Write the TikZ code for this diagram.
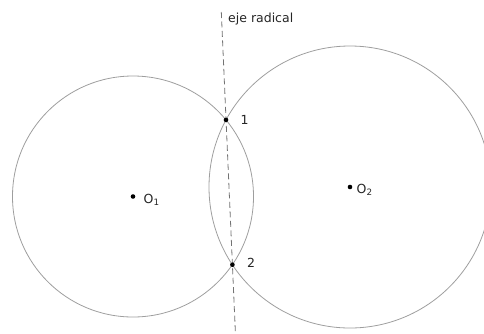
\documentclass[tikz,border=0pt]{standalone}
\usepackage{fontspec}
\setmainfont{DejaVu Sans}
\usetikzlibrary{positioning}
\begin{document}
\begin{tikzpicture}[x=1pt, y=-1pt, font=\fontsize{12.5}{15}\selectfont]
    \tikzstyle{circ line}=[draw=black!38, line width=0.8pt]
    \tikzstyle{axis line}=[draw=black!55, line width=0.8pt, dash pattern=on 6pt off 3.5pt]
    \tikzstyle{solid node}=[circle, fill=black, inner sep=0pt, minimum size=4.6pt]
    \tikzstyle{lbl}=[text=black!85, inner sep=1pt]
    \useasboundingbox (0,0) rectangle (484,333);
    \clip (0,0) rectangle (484,333);

    % centros
    \node[solid node] (o1) at (133,196.5) {};
    \node[solid node] (o2) at (350,187) {};
    \draw[circ line] (o1.center) circle [radius=120.5pt];
    \draw[circ line] (o2.center) circle [radius=141pt];

    % eje radical
    \coordinate (top) at (221.3,12);
    \coordinate (bot) at (235.5,335);
    \draw[axis line] (top) -- (bot);
    \node[solid node] (p1) at (226,119.9) {};
    \node[solid node] (p2) at (232.4,264.7) {};

    % textos
    \node[lbl, anchor=west] (eje) at (227,19) {eje radical};
    \node[lbl, right=11pt of p1] (n1) {1};
    \node[lbl, right=11pt of p2, yshift=2pt] (n2) {2};
    \node[lbl, right=7pt of o1, yshift=-3pt] (l1) {O\textsubscript{1}};
    \node[lbl, right=3pt of o2, yshift=-3pt] (l2) {O\textsubscript{2}};
\end{tikzpicture}
\end{document}
